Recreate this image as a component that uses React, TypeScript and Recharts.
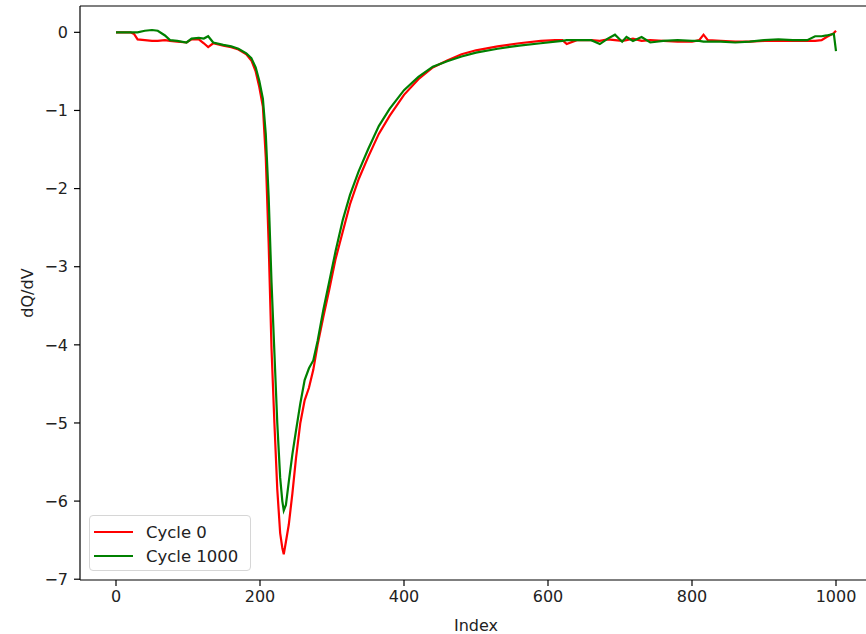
import { LineChart, XAxis, YAxis, Line, Legend, ReferenceLine } from 'recharts';

// sample index (x axis)
const indexValues = [
  0, 10, 20, 25, 30, 40, 50, 58, 68, 75, 85, 98, 105, 115, 122, 128, 135, 149, 160, 170,
  181, 188, 194, 199, 204, 208, 212, 216, 220, 224, 228, 231, 233, 236, 240, 245, 250, 256, 262, 268,
  274, 280, 288, 296, 305, 315, 325, 337, 350, 365, 380, 400, 420, 440, 460, 480, 500, 530, 560, 590,
  610, 620, 626, 640, 660, 672, 683, 693, 703, 709, 718, 730, 742, 760, 780, 800, 810, 816, 822, 840,
  860, 880, 900, 920, 940, 960, 971, 980, 987, 997, 1000,
];

const cycle0 = [
  0, 0, 0, -0.02, -0.09, -0.1, -0.11, -0.11, -0.1, -0.11, -0.12, -0.13, -0.09, -0.09, -0.14, -0.19, -0.14, -0.17, -0.19, -0.22,
  -0.28, -0.36, -0.5, -0.7, -0.95, -1.6, -2.7, -4.05, -5.0, -5.85, -6.41, -6.6, -6.68, -6.52, -6.3, -5.9, -5.45, -5.0, -4.71, -4.55,
  -4.32, -4.0, -3.64, -3.3, -2.9, -2.55, -2.2, -1.88, -1.6, -1.3, -1.07, -0.8, -0.6, -0.45, -0.36, -0.28, -0.23, -0.18, -0.14, -0.11,
  -0.1, -0.1, -0.15, -0.1, -0.1, -0.11, -0.09, -0.1, -0.11, -0.1, -0.08, -0.11, -0.1, -0.11, -0.12, -0.12, -0.1, -0.03, -0.1, -0.11,
  -0.12, -0.12, -0.11, -0.11, -0.11, -0.11, -0.11, -0.1, -0.06, -0.01, 0.02,
];

const cycle1000 = [
  0, 0, 0, 0, 0, 0.02, 0.03, 0.02, -0.04, -0.1, -0.11, -0.13, -0.08, -0.07, -0.08, -0.05, -0.13, -0.16, -0.18, -0.21,
  -0.27, -0.33, -0.45, -0.62, -0.85, -1.3, -2.1, -3.2, -4.1, -5.0, -5.7, -6.0, -6.12, -6.05, -5.75, -5.4, -5.1, -4.75, -4.45, -4.3,
  -4.2, -3.95, -3.55, -3.2, -2.8, -2.4, -2.08, -1.78, -1.5, -1.2, -0.98, -0.74, -0.57, -0.44, -0.37, -0.31, -0.26, -0.21, -0.17, -0.14,
  -0.12, -0.11, -0.1, -0.1, -0.1, -0.15, -0.08, -0.03, -0.12, -0.06, -0.11, -0.06, -0.13, -0.11, -0.1, -0.11, -0.11, -0.12, -0.12, -0.12,
  -0.13, -0.12, -0.1, -0.09, -0.1, -0.1, -0.05, -0.05, -0.04, -0.02, -0.24,
];

const xTicks = [0, 200, 400, 600, 800, 1000];
const yTicks = [0, -1, -2, -3, -4, -5, -6, -7];
const yDomain = [-7.01, 0.337];

const data = indexValues.map((index, i) => ({ index, c0: cycle0[i], c1000: cycle1000[i] }));

const FONT = '"DejaVu Sans", sans-serif';
const fmt = (v: number) => (v < 0 ? `\u2212${-v}` : `${v}`);

function LegendBox({ payload }: any) {
  return (
    <div style={{
      width: 162, height: 56, background: 'rgba(255,255,255,0.8)', border: '1px solid #d6d6d6',
      borderRadius: 4, fontFamily: FONT, fontSize: 16.5, color: '#222', boxSizing: 'border-box',
      padding: '4px 0 0 4px',
    }}>
      {(payload || []).map((p: any) => (
        <div key={p.value} style={{ display: 'flex', alignItems: 'center', height: 24 }}>
          <div style={{ width: 39, height: 2.2, background: p.color, marginRight: 13 }} />
          <span>{p.value}</span>
        </div>
      ))}
    </div>
  );
}

export default function App() {
  return (
    <div style={{ position: 'absolute', left: 0, top: 0, width: 866, height: 634, overflow: 'hidden', background: '#fff' }}>
      <LineChart width={900} height={634} data={data} margin={{ top: 6, right: 28, left: 0, bottom: 0 }}>
        <XAxis
          dataKey="index" type="number" domain={[-50, 1050]} ticks={xTicks} allowDataOverflow
          height={54} tickSize={6} tickMargin={5} stroke="#000" strokeWidth={1.2}
          tick={{ fill: '#222', fontSize: 16, fontFamily: FONT }}
          label={{ value: 'Index', position: 'insideBottom', offset: 3, fill: '#222', fontSize: 16, fontFamily: FONT }}
        />
        <YAxis
          type="number" domain={yDomain} ticks={yTicks} allowDataOverflow width={80}
          tickSize={6} tickMargin={6} stroke="#000" strokeWidth={1.2} tickFormatter={fmt}
          tick={{ fill: '#222', fontSize: 16, fontFamily: FONT }}
          label={({ viewBox }: any) => (
            <text x={viewBox.x + 27} y={viewBox.y + viewBox.height / 2} transform={`rotate(-90, ${viewBox.x + 27}, ${viewBox.y + viewBox.height / 2})`}
              textAnchor="middle" dominantBaseline="central" fill="#222" fontSize={16} fontFamily={FONT}>dQ/dV</text>
          )}
        />
        <ReferenceLine y={yDomain[1]} stroke="#000" strokeWidth={1.2} ifOverflow="visible" />
        <Legend layout="horizontal" verticalAlign="middle" align="center" content={<LegendBox />}
          wrapperStyle={{ left: 89, top: 515, width: 162, height: 56 }} />
        <Line type="linear" dataKey="c0" name="Cycle 0" stroke="#ff0000" strokeWidth={2.2} dot={false} isAnimationActive={false} />
        <Line type="linear" dataKey="c1000" name="Cycle 1000" stroke="#008000" strokeWidth={2.2} dot={false} isAnimationActive={false} />
      </LineChart>
    </div>
  );
}
